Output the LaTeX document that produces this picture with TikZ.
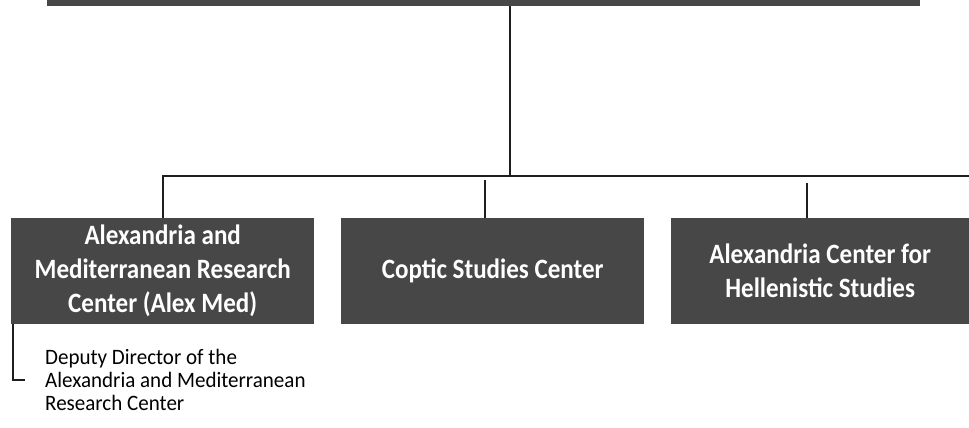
\documentclass[tikz,border=0pt]{standalone}
\usepackage{fontspec}
\setmainfont{Carlito}
\newfontfamily\boxfont[FakeStretch=0.895]{Carlito}
\newfontfamily\notefont[FakeStretch=0.955]{Carlito}
\usepackage{xcolor}
\definecolor{charcoal}{RGB}{71, 71, 71}
\definecolor{inkline}{RGB}{30, 30, 30}
\usetikzlibrary{
  positioning, calc
}
\tikzset{
  unitbox/.style={fill=charcoal, text=white, inner sep=0pt, align=center,
    font=\boxfont\fontsize{28}{34}\selectfont\bfseries, text width=295pt,
    execute at begin node={\spaceskip=5.7pt\relax},
    minimum width=303pt, minimum height=106pt, anchor=north west},
  notetext/.style={anchor=west, align=left, inner sep=0pt,
    font=\notefont\fontsize{22}{23}\selectfont,
    execute at begin node={\spaceskip=4.8pt\relax}},
  orgline/.style={draw=inkline, line width=2pt}
}

\begin{document}
\begin{tikzpicture}[x=1pt, y=-1pt]
    \useasboundingbox (0,0) rectangle (969,428);
    % top box, cut off at the frame
    \node[fill=charcoal, inner sep=0pt, minimum width=873pt, minimum height=6pt, anchor=north west] (director) at (47,0) {};
    \node[unitbox] (alexmed) at (11,218) {Alexandria and\\Mediterranean Research\\Center (Alex Med)};
    \node[unitbox] (coptic) at (341,218) {Coptic Studies Center};
    \node[unitbox, minimum width=298pt, text width=290pt] (hellenic) at (671,218) {Alexandria Center for\\Hellenistic Studies};
    \node[notetext] (deputy) at (45,380) {Deputy Director of the\\Alexandria and Mediterranean\\Research Center};
    \coordinate (bus) at (510,176);
    \coordinate (busend) at (969,176);
    \draw[orgline] (bus |- director.south) -- (bus);
    \draw[orgline] (alexmed.north) |- (busend);
    \draw[orgline] ([xshift=-7.5pt]coptic.north) -- ++(0,-38);
    \draw[orgline] ([xshift=-13pt]hellenic.north) -- ++(0,-35);
    \draw[orgline] ([xshift=1.5pt]alexmed.south west) |- ([xshift=-20pt]deputy.west);
  \end{tikzpicture}
\end{document}
